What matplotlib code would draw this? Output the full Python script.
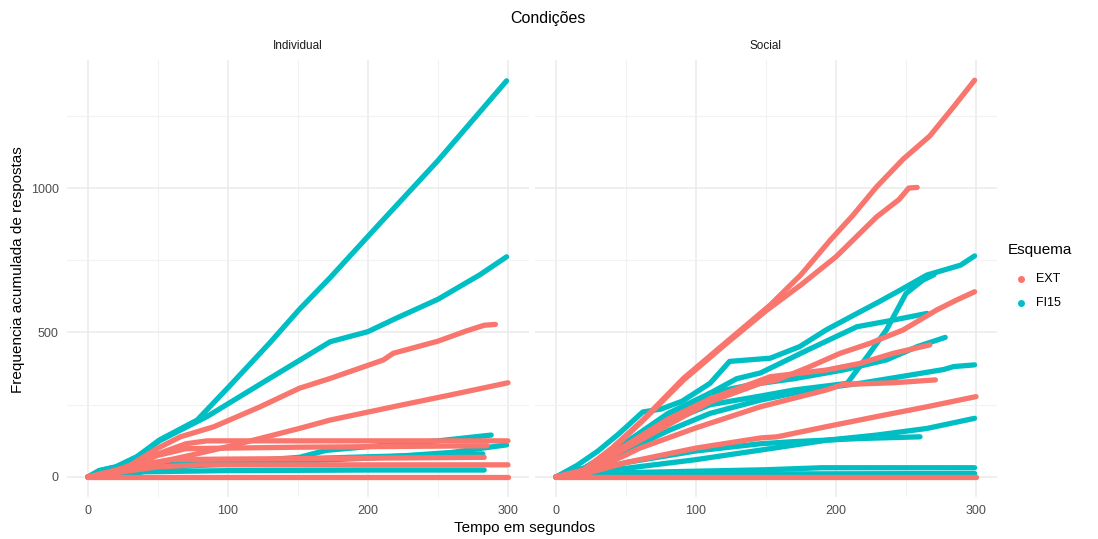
import matplotlib
matplotlib.use("Agg")
import matplotlib.pyplot as plt
from matplotlib.lines import Line2D

plt.rcParams['font.family'] = ['Liberation Sans', 'DejaVu Sans']

# Colours (ggplot default hue palette)
COL_EXT = "#F8766D"
COL_FI = "#00BFC4"

conditions = ["Individual", "Social"]
schemes = ["EXT", "FI15"]

# Individual - EXT (time in s, cumulative responses)
ind_ext_t = [
    [0, 15, 30, 50, 66, 90, 123, 151, 173, 211, 218, 250, 270, 283, 291],
    [0, 20, 40, 73, 100, 151, 173, 220, 260, 300],
    [0, 10, 30, 50, 70, 85, 300],
    [0, 20, 40, 60, 100, 200, 283],
    [0, 25, 50, 70, 150, 285],
    [0, 20, 50, 80, 150, 300],
    [0, 300],
]
ind_ext_y = [
    [0, 10, 40, 100, 139, 174, 243, 307, 341, 405, 428, 470, 505, 525, 528],
    [0, 15, 40, 75, 105, 168, 197, 245, 285, 326],
    [0, 5, 40, 80, 115, 125, 125],
    [0, 20, 45, 60, 62, 65, 68],
    [0, 30, 75, 98, 103, 108],
    [0, 15, 35, 42, 42, 42],
    [0, 0],
]

# Individual - FI15
ind_fi_t = [
    [0, 8, 20, 35, 51, 78, 100, 130, 151, 173, 208, 250, 299],
    [0, 8, 20, 35, 51, 85, 128, 173, 200, 220, 250, 280, 299],
    [0, 20, 50, 100, 151, 170, 200, 250, 288],
    [0, 18, 40, 100, 200, 260, 282, 299],
    [0, 18, 40, 100, 200, 283],
    [0, 20, 50, 100, 200, 282],
]
ind_fi_y = [
    [0, 22, 35, 70, 128, 197, 309, 465, 580, 690, 875, 1095, 1371],
    [0, 22, 35, 70, 125, 209, 336, 468, 503, 549, 615, 700, 762],
    [0, 10, 30, 50, 68, 92, 105, 125, 145],
    [0, 0, 30, 45, 65, 85, 100, 111],
    [0, 0, 18, 22, 24, 24],
    [0, 10, 40, 55, 70, 80],
]

# Social - EXT
soc_ext_t = [
    [0, 20, 40, 62, 91, 120, 153, 175, 196, 212, 229, 248, 267, 284, 299],
    [0, 20, 40, 62, 91, 120, 150, 175, 200, 229, 245, 252, 258],
    [0, 20, 50, 80, 110, 146, 158, 181, 203, 224, 248, 272, 286, 299],
    [0, 20, 50, 80, 110, 153, 193, 217, 241, 267],
    [0, 30, 60, 100, 146, 193, 205, 241, 271],
    [0, 20, 50, 100, 146, 158, 193, 229, 265, 300],
    [0, 300],
]
soc_ext_y = [
    [0, 25, 100, 197, 341, 460, 595, 700, 820, 905, 1004, 1100, 1180, 1281, 1373],
    [0, 20, 95, 195, 335, 455, 575, 665, 762, 900, 960, 1000, 1002],
    [0, 15, 100, 180, 260, 324, 336, 381, 428, 462, 509, 578, 612, 641],
    [0, 20, 110, 200, 270, 347, 370, 393, 428, 457],
    [0, 30, 100, 170, 243, 301, 320, 326, 336],
    [0, 10, 50, 100, 135, 139, 174, 209, 243, 278],
    [0, 0],
]

# Social - FI15
soc_fi_t = [
    [0, 15, 30, 45, 62, 75, 90, 110, 124, 153, 174, 193, 215, 231, 246, 265, 289, 299],
    [0, 20, 50, 80, 110, 146, 170, 208, 224, 236, 250, 262, 270],
    [0, 20, 50, 80, 110, 129, 146, 180, 215, 241, 265],
    [0, 20, 50, 80, 110, 140, 170, 205, 236, 258, 278],
    [0, 20, 50, 80, 110, 146, 181, 217, 246, 277, 284, 299],
    [0, 20, 50, 100, 146, 193, 229, 265, 299],
    [0, 20, 50, 100, 146, 169, 217, 260],
    [0, 50, 150, 190, 230, 299],
    [0, 100, 299],
]
soc_fi_y = [
    [0, 40, 90, 150, 225, 235, 262, 324, 400, 411, 451, 509, 566, 607, 647, 699, 733, 765],
    [0, 30, 110, 190, 250, 280, 301, 324, 428, 509, 635, 681, 700],
    [0, 30, 110, 200, 290, 340, 360, 440, 520, 543, 566],
    [0, 30, 120, 220, 290, 320, 340, 370, 405, 451, 483],
    [0, 30, 90, 160, 220, 266, 301, 324, 347, 372, 382, 388],
    [0, 10, 30, 60, 93, 127, 145, 168, 203],
    [0, 15, 50, 90, 115, 122, 133, 139],
    [0, 15, 25, 32, 32, 32],
    [0, 10, 12],
]

panel_data = {
    "Individual": [(ind_fi_t, ind_fi_y, COL_FI), (ind_ext_t, ind_ext_y, COL_EXT)],
    "Social": [(soc_fi_t, soc_fi_y, COL_FI), (soc_ext_t, soc_ext_y, COL_EXT)],
}

W, H = 1098, 539
fig = plt.figure(figsize=(W / 100, H / 100), dpi=100)
fig.patch.set_facecolor("white")

lefts = [67, 535]
pw = 462
top_px, bot_px = 60.4, 496.8

for i, cond in enumerate(conditions):
    ax = fig.add_axes([lefts[i] / W, 1 - bot_px / H, pw / W, (bot_px - top_px) / H])
    ax.set_facecolor("white")
    for ts, ys, col in panel_data[cond]:
        for t, y in zip(ts, ys):
            ax.plot(t, y, color=col, lw=3.8, solid_capstyle="round",
                    solid_joinstyle="round", zorder=3)
    ax.set_xlim(-15, 315)
    ax.set_ylim(-68.6, 1441.6)
    ax.set_xticks([0, 100, 200, 300])
    ax.set_xticks([50, 150, 250], minor=True)
    ax.set_yticks([0, 500, 1000])
    ax.set_yticks([250, 750, 1250], minor=True)
    ax.grid(which="major", color="#EBEBEB", lw=1.1, zorder=0)
    ax.grid(which="minor", color="#F2F2F2", lw=0.8, zorder=0)
    ax.set_axisbelow(True)
    for s in ax.spines.values():
        s.set_visible(False)
    ax.tick_params(which="both", length=0, labelsize=9, colors="#4D4D4D", pad=6)
    if i == 1:
        ax.tick_params(axis="y", labelleft=False)
    ax.text(0.5, 1 + (60.4 - 46) / (bot_px - top_px), cond, transform=ax.transAxes,
            ha="center", va="center", fontsize=8.5, color="#1A1A1A")

fig.text(0.499, 1 - 19 / H, "Condições", ha="center", va="center", fontsize=11.5)
fig.text(525 / W, 1 - 528 / H, "Tempo em segundos", ha="center", va="center", fontsize=11)
fig.text(18 / W, 1 - 270 / H, "Frequencia acumulada de respostas", ha="center",
         va="center", rotation=90, fontsize=11)

# legend
fig.text(1008 / W, 1 - 250 / H, "Esquema", ha="left", va="center", fontsize=11)
for lab, col, ypx in [(schemes[0], COL_EXT, 279), (schemes[1], COL_FI, 303)]:
    fig.add_artist(Line2D([1021 / W], [1 - ypx / H], transform=fig.transFigure,
                          marker="o", ls="", color=col, markersize=4))
    fig.text(1036 / W, 1 - ypx / H, lab, ha="left", va="center", fontsize=9)

fig.savefig("out.png", dpi=100, facecolor="white")
